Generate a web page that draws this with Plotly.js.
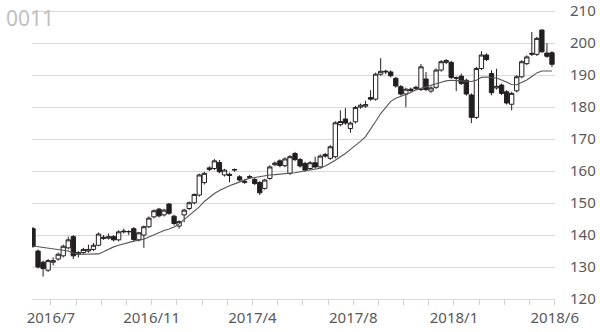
<!DOCTYPE html>
<html>
<head>
<meta charset="utf-8">
<script src="https://cdn.plot.ly/plotly-3.0.1.min.js"></script>
<style>html,body{margin:0;padding:0;background:#fff}#chart{width:600px;height:332px}</style>
</head>
<body>
<div id="chart"></div>
<script>
const chartTitle = '0011';
const openP = [142,135,131.5,129,131.5,132.5,133.5,136,139.5,134,134.5,135,135.5,136.8,139.3,139,139.5,138.5,141,141,142,138.5,140,142.6,145.7,148.1,146.3,149.7,145.9,142.8,146.3,148.3,150.1,152.5,156.4,160.5,160.8,162.7,158.8,159,160.3,158.2,156.8,158,157.4,156.4,154.6,157.7,162,163.2,161.7,159.3,165.5,163.6,162.4,160.8,162.6,161.3,165.2,164,164.5,174.5,176.3,173.3,175.4,180,180.3,183,182.5,190.3,191,191,189,186.4,184.1,185.2,185.8,185.5,188.8,185,186.2,191.6,194,194,189,189.7,188.4,183.8,176.8,192.1,196.3,190.5,186,186.9,184.8,180.9,185.1,189.5,193.6,196.5,196.5,204.1,196.9,197];
const highP = [142.5,135.5,132,132.5,133,134.5,137,139.5,140,135,136,137,137.5,140.8,140,140.5,140,141.5,142,141.5,142.5,141,143,145.8,148,148.5,148.2,150,146.3,144.6,148.2,150.5,153,159.2,159.7,161.5,163.8,163.5,160.7,159.5,160.8,158.7,157.5,158.8,157.9,156.9,157.6,161.8,163,163.7,164.3,165,166,164.1,162.9,163.1,164.5,165.2,165.7,168.1,175.6,179,179.7,175.5,180.4,181.1,182,185.3,190.8,195.3,191.7,191.5,189.5,186.9,186.1,186.1,186.7,193.5,191,186.5,192.1,194.7,195,194.5,189.6,190.5,188.9,184.3,192.6,197.5,196.8,191.5,192,187.4,185.3,184.8,190,194.7,196.2,203.5,202,204.3,200,197.5];
const lowP = [136,129.5,127,128.5,130.5,132,133,135.5,132.5,133,134,134.5,135,136.5,138.5,138.6,138,138,140.5,140,138,138,136,142.2,145.2,145.5,145.8,146.3,143,142,144,147.8,149.6,152,155.8,160,160.3,159.3,158.3,156.5,159.8,156.8,156,157.6,155.6,152.5,154.2,157.3,161.5,161.2,161.2,158.8,163.1,161.1,159.8,160.3,160.8,160.8,164.2,163.5,164,174,174.5,172,174.9,179.5,179.8,182,182,189.8,190.3,189.3,186.1,183.6,180,184.7,185.3,185,185,184.5,185.7,191.1,193.5,188.8,185,186.9,183.6,175,176.3,191.6,194.4,183.7,185.5,183.8,180.8,179,184.6,189,193.1,196,196,197,195.4,192.5];
const closeP = [136.5,130,129.5,132,132,134,136.5,138.5,133.5,134.5,135.5,135.5,136.8,140.3,139,139.5,138.5,141,141.2,141.1,138.6,140.7,142.6,145.3,147.6,146,147.8,146.8,143.6,144.2,147.8,150.1,152.7,158.8,159.3,161,163.2,159.8,160.3,158.6,160.5,157.2,156.5,158.3,156.1,153.2,157.2,161.3,162.5,161.7,163.8,164.5,163.6,161.6,160.3,162.6,161.3,164.7,164.7,167.6,175.1,175.5,175,175,179.9,180.6,180.8,182.5,190.3,191.2,191.2,189.8,186.6,184.1,185.6,185.6,186.2,192.6,185.5,186,191.6,194.2,194.6,189.3,189.2,187.4,184.1,176.8,192.1,196.3,194.9,184.5,186.5,184.3,181.3,184.3,189.5,194.2,195.7,196.8,201.5,197.3,195.9,193.4];
const movingAvg = [136.6,136.4,136.2,136.0,135.8,135.6,135.3,135.0,134.4,134.0,134.0,134.0,134.0,134.1,134.8,135.6,136.3,136.8,137.3,137.7,138.1,138.4,138.7,139.4,140.1,140.8,141.4,141.9,142.5,143.5,144.8,146.4,147.6,148.8,150.5,151.9,153.0,153.9,154.7,155.4,156.0,156.6,157.2,157.8,158.0,158.3,158.5,158.8,158.9,159.0,159.2,159.3,159.5,159.8,160.1,160.3,160.6,160.9,161.6,162.4,163.4,164.5,165.5,166.8,168.0,169.3,170.8,173.0,175.5,178.0,180.0,181.8,182.8,183.4,183.9,184.6,185.4,185.9,186.4,187.0,187.4,187.8,188.2,188.4,188.3,188.2,188.0,188.0,188.4,189.3,189.4,189.3,189.1,188.5,187.8,187.1,187.0,187.8,188.5,189.6,190.7,191.3,191.3,191.3];
const tickLabels = ['2016/7','2016/11','2017/4','2017/8','2018/1','2018/6'];
const yTicks = [120,130,140,150,160,170,180,190,200,210];

const xIdx = openP.map((_, i) => i);
const tickVals = [], tickText = [];
for (let k = 0; k <= 20; k++) {
  tickVals.push(3.55 + 5 * k);
  tickText.push(k % 4 === 0 ? tickLabels[k / 4] : '');
}

const traces = [
  {
    type: 'candlestick', x: xIdx, open: openP, high: highP, low: lowP, close: closeP,
    increasing: {line: {color: '#231f20', width: 1}, fillcolor: '#ffffff'},
    decreasing: {line: {color: '#231f20', width: 1}, fillcolor: '#231f20'},
    whiskerwidth: 0, hoverinfo: 'skip', showlegend: false
  },
  {
    type: 'scatter', mode: 'lines', x: xIdx, y: movingAvg,
    line: {color: '#555555', width: 1.1}, hoverinfo: 'skip', showlegend: false
  }
];

const layout = {
  width: 600, height: 332,
  margin: {l: 32, r: 45, t: 8, b: 33},
  paper_bgcolor: '#ffffff', plot_bgcolor: '#ffffff',
  font: {family: '"Noto Sans", "Noto Sans CJK JP", sans-serif', color: '#595959', size: 15},
  title: {text: chartTitle, x: 0.01, xanchor: 'left', xref: 'container', y: 0.945, yref: 'container', yanchor: 'middle', font: {size: 21, color: '#c0c0c0'}},
  boxgap: 0.1, boxgroupgap: 0.05,
  xaxis: {
    range: [-0.2, 103.6], rangeslider: {visible: false},
    tickmode: 'array', tickvals: tickVals, ticktext: tickText,
    ticks: 'outside', ticklen: 5, tickcolor: '#d0d0d0', tickwidth: 1,
    showgrid: false, zeroline: false, showline: true, linecolor: '#d9d9d9', linewidth: 1,
    tickfont: {size: 15, color: '#595959'}, fixedrange: true
  },
  yaxis: {
    side: 'right', range: [120, 211], tickmode: 'array', tickvals: yTicks,
    showgrid: true, gridcolor: '#d9d9d9', gridwidth: 1, zeroline: false, showline: false,
    ticks: '', ticklabelstandoff: 14, tickfont: {size: 15, color: '#595959'}, fixedrange: true,
    ticklabeloverflow: 'allow'
  }
};

Plotly.newPlot('chart', traces, layout, {displayModeBar: false, staticPlot: true});
</script>
</body>
</html>
